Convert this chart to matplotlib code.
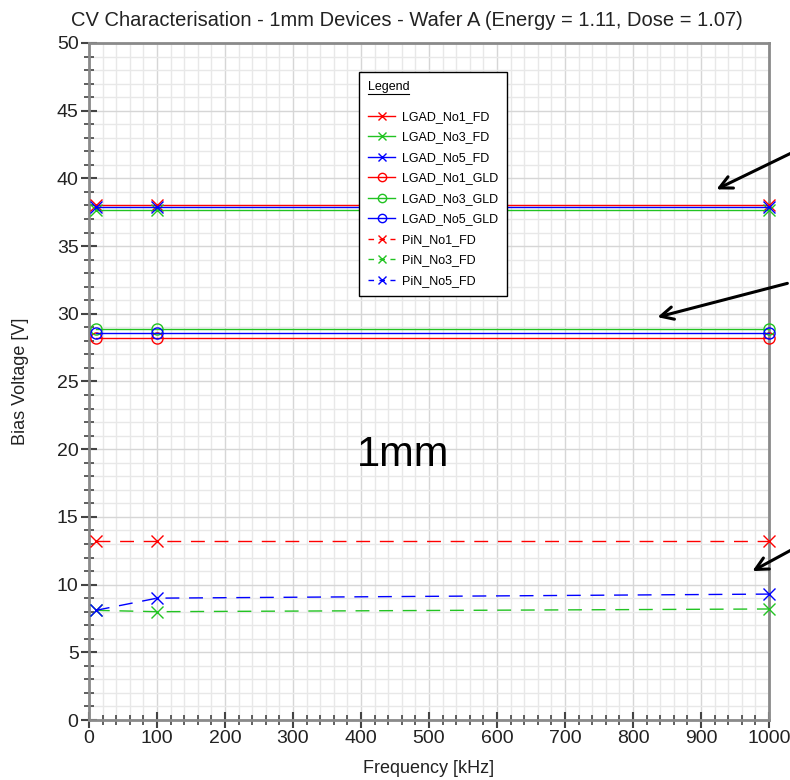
#!/usr/bin/env python3
"""CV characterisation plot - 1mm devices, wafer A."""

import matplotlib
matplotlib.use("Agg")
import matplotlib.pyplot as plt
from matplotlib.lines import Line2D
from matplotlib.legend_handler import HandlerLine2D
from matplotlib.ticker import MultipleLocator

plt.rcParams['font.family'] = ['Liberation Sans', 'DejaVu Sans']

# Frequencies measured [kHz]
freq = [10, 100, 1000]

# Bias voltages [V]
lgad_no1_fd = [38.0, 38.0, 38.0]
lgad_no3_fd = [37.7, 37.7, 37.7]
lgad_no5_fd = [37.9, 37.9, 37.9]
lgad_no1_gld = [28.2, 28.2, 28.2]
lgad_no3_gld = [28.9, 28.9, 28.9]
lgad_no5_gld = [28.6, 28.6, 28.6]
pin_no1_fd = [13.2, 13.2, 13.2]
pin_no3_fd = [8.1, 8.0, 8.2]
pin_no5_fd = [8.1, 9.0, 9.3]

labels = ['LGAD_No1_FD', 'LGAD_No3_FD', 'LGAD_No5_FD',
          'LGAD_No1_GLD', 'LGAD_No3_GLD', 'LGAD_No5_GLD',
          'PiN_No1_FD', 'PiN_No3_FD', 'PiN_No5_FD']

RED, GREEN, BLUE = '#ff0000', '#22c322', '#0000ff'
DASHED = (0, (10, 7))

fig = plt.figure(figsize=(7.9, 7.8), dpi=100)
ax = fig.add_axes([0.1127, 0.0769, 0.8607, 0.868])

series = [
    (lgad_no1_fd, RED, 'x', '-'),
    (lgad_no3_fd, GREEN, 'x', '-'),
    (lgad_no5_fd, BLUE, 'x', '-'),
    (lgad_no1_gld, RED, 'o', '-'),
    (lgad_no3_gld, GREEN, 'o', '-'),
    (lgad_no5_gld, BLUE, 'o', '-'),
    (pin_no1_fd, RED, 'x', DASHED),
    (pin_no3_fd, GREEN, 'x', DASHED),
    (pin_no5_fd, BLUE, 'x', DASHED),
]

handles = []
for (vals, col, mk, ls), lab in zip(series, labels):
    line, = ax.plot(freq, vals, color=col, marker=mk, linestyle=ls, lw=1.0,
                    markersize=8, markerfacecolor='none', markeredgewidth=1.0,
                    label=lab, clip_on=False, zorder=3)
    handles.append(line)

ax.set_xlim(0, 1000)
ax.set_ylim(0, 50)
ax.xaxis.set_major_locator(MultipleLocator(100))
ax.xaxis.set_minor_locator(MultipleLocator(20))
ax.yaxis.set_major_locator(MultipleLocator(5))
ax.yaxis.set_minor_locator(MultipleLocator(1))

ax.grid(which='major', color='#d6d6d6', lw=1.0, zorder=0)
ax.grid(which='minor', color='#e8e8e8', lw=1.0, zorder=0)
ax.set_axisbelow(True)

for sp in ax.spines.values():
    sp.set_color('#8a8a8a')
    sp.set_linewidth(2.0)

ax.tick_params(which='major', direction='inout', length=11, width=1.5,
               color='#444444', labelsize=14, labelcolor='#222222', pad=2)
ax.tick_params(which='minor', direction='inout', length=7, width=1.2,
               color='#444444')

ax.set_xlabel('Frequency [kHz]', fontsize=13, color='#222222', labelpad=9)
ax.set_ylabel('Bias Voltage [V]', fontsize=13, color='#222222', labelpad=20)
ax.set_title('CV Characterisation - 1mm Devices - Wafer A (Energy = 1.11, Dose = 1.07)',
             fontsize=14.5, color='#222222', pad=12, x=0.468)


def short_dashes(legend_handle, orig_handle):
    legend_handle.update_from(orig_handle)
    legend_handle.set_linestyle((0, (4, 3.9)))


dash_handler = HandlerLine2D(update_func=short_dashes)
leg = ax.legend(handles=handles, loc='upper left', bbox_to_anchor=(0.388, 0.966),
                title='Legend', title_fontsize=9,
                fontsize=9, frameon=True, fancybox=False, edgecolor='black',
                framealpha=1.0, alignment='left', handlelength=2.2,
                labelspacing=0.68, borderpad=0.7, handletextpad=0.5,
                markerscale=0.75,
                handler_map={h: dash_handler for h in handles[6:]})
leg.get_frame().set_linewidth(1.0)
leg.set_zorder(5)
leg._legend_box.sep = 13  # more room below the title

ax.text(462, 19.6, '1mm', fontsize=30, ha='center', va='center', color='black')

# Arrows: (tail, head) in data coordinates
arrows = [((1038, 42.0), (919, 39.1)),
          ((1031, 32.3), (832, 29.7)),
          ((1038, 12.7), (972, 10.9))]
for tail, head in arrows:
    ax.annotate('', xy=head, xytext=tail, annotation_clip=False,
                arrowprops=dict(arrowstyle='->,head_length=0.9,head_width=0.45',
                                color='black', lw=2.2))

# underline the legend title
fig.canvas.draw()
bb = leg.get_title().get_window_extent()
fig.add_artist(Line2D([bb.x0, bb.x1], [bb.y0 - 1, bb.y0 - 1], transform=None,
                      color='black', lw=0.8, zorder=6))

fig.savefig('out.png', dpi=100)
